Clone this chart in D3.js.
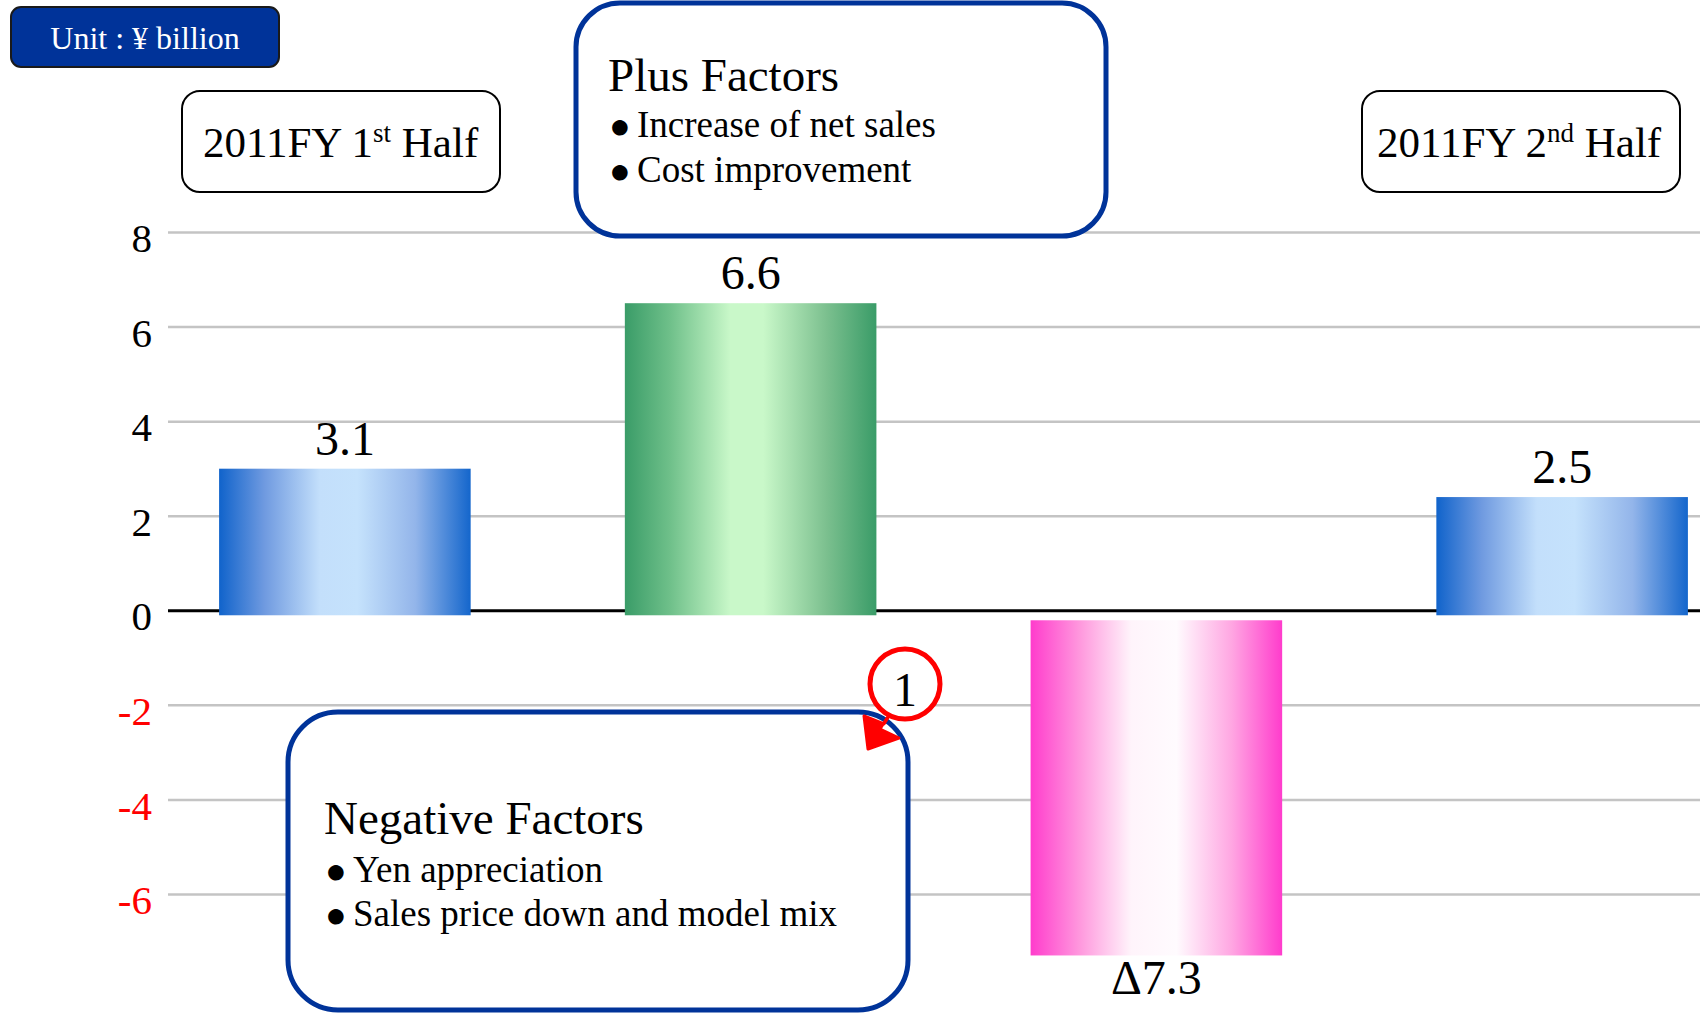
<!DOCTYPE html>
<html><head><meta charset="utf-8">
<script src="https://cdn.jsdelivr.net/npm/d3@7"></script>
<style>
html,body{margin:0;padding:0;background:#fff;}
svg{display:block;font-family:"Liberation Serif","Times New Roman",serif;}
</style>
</head><body>
<svg id="chart" width="1700" height="1013"></svg>
<script>
// ---- data ----
const categories = ["2011FY 1st Half", "Plus Factors", "Negative Factors", "2011FY 2nd Half"];
const values = [3.1, 6.6, -7.3, 2.5];
const valueLabels = ["3.1", "6.6", "\u03947.3", "2.5"];
const barKinds = ["blue", "green", "pink", "blue"];
const tickValues = [-6, -4, -2, 0, 2, 4, 6, 8];
const tickLabels = ["-6", "-4", "-2", "0", "2", "4", "6", "8"];
const unitLabel = "Unit : \u00a5 billion";
const periodLabels = [["2011FY 1", "st", " Half"], ["2011FY 2", "nd", " Half"]];
const plusTitle = "Plus Factors";
const plusItems = ["Increase of net sales", "Cost improvement"];
const negTitle = "Negative Factors";
const negItems = ["Yen appreciation", "Sales price down and model mix"];
const calloutNumber = "1";

// ---- setup ----
const W = 1700, H = 1013;
const svg = d3.select("#chart");
const defs = svg.append("defs");
const BLUE = "#003399";

function grad(id, stops) {
  const g = defs.append("linearGradient").attr("id", id)
    .attr("x1", "0").attr("x2", "1").attr("y1", "0").attr("y2", "0");
  stops.forEach(s => g.append("stop").attr("offset", s[0]).attr("stop-color", s[1]));
}
grad("g-blue", [["0%", "#1063cb"], ["18%", "#6f9ae0"], ["40%", "#c3dffb"], ["55%", "#c5e2fc"], ["78%", "#93b5ea"], ["100%", "#1466cc"]]);
grad("g-green", [["0%", "#3a9c68"], ["18%", "#6fc08a"], ["42%", "#c9f8c9"], ["55%", "#c9f8c9"], ["80%", "#7cc08f"], ["100%", "#3a9c68"]]);
grad("g-pink", [["0%", "#ff3ccc"], ["20%", "#ff9ade"], ["40%", "#fff4fb"], ["58%", "#fffbfe"], ["80%", "#ffa6e2"], ["100%", "#ff3ccc"]]);

// ---- scales ----
const x = d3.scaleBand().domain(categories).range([142, 1765]).paddingInner(0.38).paddingOuter(0.19);
const y = d3.scaleLinear().domain([-8.5, 8]).range([1012.2, 232]);

// ---- axis / grid ----
const axisG = svg.append("g").attr("transform", "translate(168,0)")
  .call(d3.axisLeft(y).tickValues(tickValues).tickFormat((d, i) => tickLabels[i])
    .tickSize(-(W - 168)).tickPadding(16));
axisG.attr("font-family", null).attr("font-size", null);
axisG.select(".domain").remove();
axisG.selectAll(".tick line")
  .attr("stroke", d => d === 0 ? "#000" : "#c4c4c4")
  .attr("stroke-width", d => d === 0 ? 3 : 2.5);
axisG.selectAll(".tick text")
  .attr("font-size", 41)
  .attr("dy", "0.48em")
  .attr("fill", d => d < 0 ? "#ff0000" : "#000");

// ---- bars ----
const SHIFT = 5, NEG_GAP = 10;
const barData = categories.map((c, i) => ({ c, v: values[i], label: valueLabels[i], kind: barKinds[i] }));
const barTop = d => d.v >= 0 ? y(d.v) + SHIFT : y(0) + NEG_GAP;
const barBottom = d => d.v >= 0 ? y(0) + SHIFT : y(d.v);

svg.append("g").selectAll("rect").data(barData).join("rect")
  .attr("x", d => x(d.c))
  .attr("width", x.bandwidth())
  .attr("y", barTop)
  .attr("height", d => barBottom(d) - barTop(d))
  .attr("fill", d => `url(#g-${d.kind})`);

svg.append("g").selectAll("text").data(barData).join("text")
  .attr("x", d => x(d.c) + x.bandwidth() / 2)
  .attr("y", d => d.v >= 0 ? barTop(d) - 14 : barBottom(d) + 39)
  .attr("text-anchor", "middle")
  .attr("font-size", 48)
  .attr("fill", "#000")
  .text(d => d.label);

// ---- unit box ----
svg.append("rect").attr("x", 11).attr("y", 7).attr("width", 268).attr("height", 60)
  .attr("rx", 10).attr("fill", BLUE).attr("stroke", "#1a1a1a").attr("stroke-width", 2);
svg.append("text").attr("x", 145).attr("y", 49).attr("text-anchor", "middle")
  .attr("font-size", 32).attr("fill", "#fff").text(unitLabel);

// ---- period boxes ----
const periodBoxes = [{ bx: 182, tx: 203 }, { bx: 1362, tx: 1377 }];
periodBoxes.forEach((p, i) => {
  svg.append("rect").attr("x", p.bx).attr("y", 91).attr("width", 318).attr("height", 101)
    .attr("rx", 18).attr("fill", "#fff").attr("stroke", "#000").attr("stroke-width", 2);
  const t = svg.append("text").attr("x", p.tx).attr("y", 157).attr("font-size", 43).attr("fill", "#000");
  t.append("tspan").text(periodLabels[i][0]);
  t.append("tspan").attr("font-size", 27).attr("dy", -15).text(periodLabels[i][1]);
  t.append("tspan").attr("dy", 15).text(periodLabels[i][2]);
});

// ---- factor boxes ----
function factorBox(bx, by, bw, bh, rx, tx, titleY, title, items, itemY0, itemStep) {
  svg.append("rect").attr("x", bx).attr("y", by).attr("width", bw).attr("height", bh)
    .attr("rx", rx).attr("fill", "#fff").attr("stroke", BLUE).attr("stroke-width", 5);
  svg.append("text").attr("x", tx).attr("y", titleY).attr("font-size", 47).attr("fill", "#000").text(title);
  items.forEach((it, i) => {
    const yy = itemY0 + i * itemStep;
    svg.append("text").attr("x", tx + 1).attr("y", yy + 1).attr("font-size", 36)
      .attr("fill", "#000").text("\u25CF");
    svg.append("text").attr("x", tx + 29).attr("y", yy).attr("font-size", 37)
      .attr("fill", "#000").text(it);
  });
}
factorBox(576, 3, 530, 233, 44, 608, 91, plusTitle, plusItems, 137, 45);
factorBox(288, 712, 620, 298, 50, 324, 834, negTitle, negItems, 882, 44);

// ---- callout circle + arrow ----
svg.append("path")
  .attr("d", "M891,713 L884,724 L864,716 L868,749 L899,738 L880,729 L887,718 Z")
  .attr("fill", "#ff0000").attr("stroke", "#ff0000").attr("stroke-width", 3).attr("stroke-linejoin", "round");
svg.append("circle").attr("cx", 905).attr("cy", 684).attr("r", 35)
  .attr("fill", "#fff").attr("stroke", "#ff0000").attr("stroke-width", 5);
svg.append("text").attr("x", 905).attr("y", 706).attr("text-anchor", "middle")
  .attr("font-size", 48).attr("fill", "#000").text(calloutNumber);
</script>
</body></html>
